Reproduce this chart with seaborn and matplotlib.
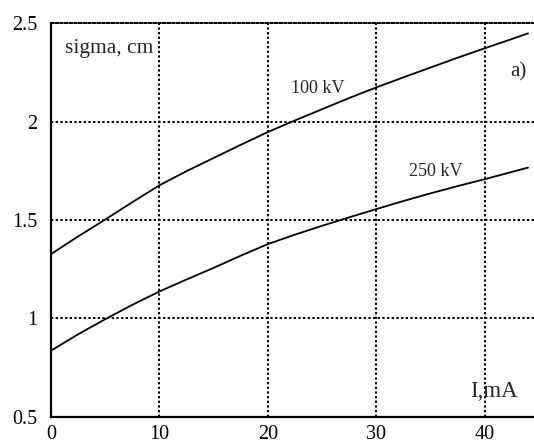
import matplotlib
matplotlib.use("Agg")
import matplotlib.pyplot as plt
import seaborn as sns
import pandas as pd
from matplotlib.ticker import MultipleLocator, FuncFormatter

current_mA = [0, 2.5, 5, 7.5, 10, 12.5, 15, 17.5, 20, 22.5, 25, 27.5, 30, 32.5, 35, 37.5, 40, 42.5, 44]
sigma_100kV = [1.326, 1.416, 1.502, 1.59, 1.676, 1.748, 1.815, 1.882, 1.947, 2.006, 2.063,
               2.12, 2.174, 2.225, 2.275, 2.325, 2.373, 2.42, 2.449]
sigma_250kV = [0.835, 0.918, 0.995, 1.068, 1.136, 1.197, 1.256, 1.318, 1.377, 1.425, 1.47,
               1.513, 1.555, 1.596, 1.635, 1.672, 1.707, 1.744, 1.766]
series_labels = ["100 kV", "250 kV"]
x_ticks = [0, 10, 20, 30, 40]
y_ticks = [0.5, 1, 1.5, 2, 2.5]

df = pd.DataFrame({
    "I": current_mA * 2,
    "sigma": sigma_100kV + sigma_250kV,
    "series": [series_labels[0]] * len(current_mA) + [series_labels[1]] * len(current_mA),
})

sns.set_style("white")
plt.rcParams["font.family"] = ["Liberation Serif", "DejaVu Serif"]

fig = plt.figure(figsize=(5.34, 4.4), dpi=100)
ax = fig.add_axes([0.0955, 0.0534, 1.0 - 0.0955, 0.947 - 0.0534])

sns.lineplot(data=df, x="I", y="sigma", hue="series", palette=["black", "black"],
             linewidth=1.3, legend=False, ax=ax, estimator=None, sort=True)

ax.set_xlim(0, 44.55)
ax.set_ylim(0.5, 2.5)
ax.set_xticks(x_ticks)
ax.set_yticks(y_ticks)
ax.xaxis.set_minor_locator(MultipleLocator(2))
ax.yaxis.set_minor_locator(MultipleLocator(0.1))
ax.yaxis.set_major_formatter(FuncFormatter(lambda v, p: ("%g" % v)))
ax.set_xlabel("")
ax.set_ylabel("")

ax.grid(True, which="major", color="black", linestyle=(0, (1.2, 1.2)), linewidth=1.4)
ax.tick_params(axis="both", which="both", direction="in", colors="black", labelsize=14.5)
ax.tick_params(axis="both", which="major", length=0)
ax.tick_params(axis="y", which="minor", length=4, width=1)
ax.tick_params(axis="x", which="minor", length=5, width=1)
ax.tick_params(axis="y", which="major", pad=10)
ax.tick_params(axis="x", which="major", pad=6)

for s in ["left", "bottom"]:
    ax.spines[s].set_color("black")
    ax.spines[s].set_linewidth(1.6)
ax.spines["right"].set_visible(False)
ax.spines["top"].set_color("black")
ax.spines["top"].set_linewidth(1.4)
ax.spines["top"].set_linestyle((0, (1.2, 1.2)))

ax.text(1.3, 2.374, "sigma, cm", fontsize=15.5, va="center", ha="left")
ax.text(22.1, 2.17, series_labels[0], fontsize=13, va="center", ha="left")
ax.text(33.0, 1.745, series_labels[1], fontsize=13, va="center", ha="left")
ax.text(42.4, 2.254, "a)", fontsize=15, va="center", ha="left")
ax.text(38.7, 0.626, "I,mA", fontsize=16.5, va="center", ha="left")

fig.savefig("out.png", dpi=100)
